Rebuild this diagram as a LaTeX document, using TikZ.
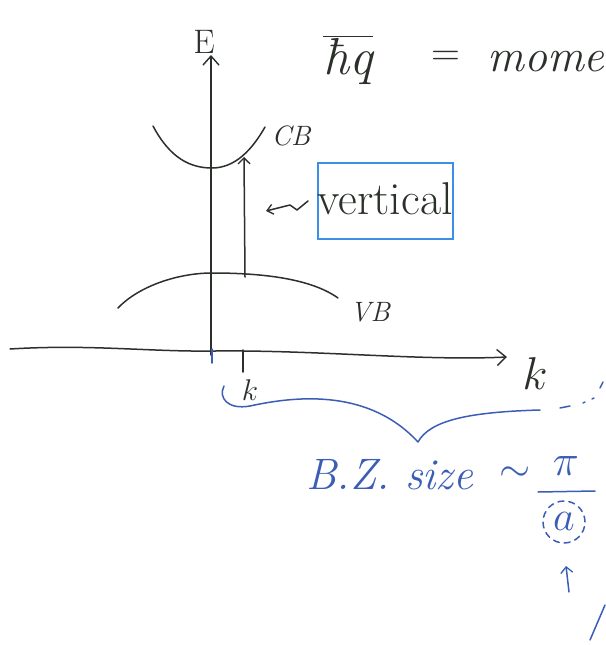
\RequirePackage{fix-cm}
\documentclass[tikz,border=0pt]{standalone}
\usetikzlibrary{arrows.meta,calc}
\definecolor{ink}{HTML}{2B302B}
\definecolor{bink}{HTML}{3B5DB5}
\definecolor{boxblue}{HTML}{3D8EE6}
\tikzset{
  pen/.style={draw=ink, line width=1.5pt, line cap=round, line join=round},
  bpen/.style={draw=bink, line width=1.5pt, line cap=round, line join=round},
  tip/.style={-{Straight Barb[length=9pt,width=16pt,line width=1.4pt]}},
  handtxt/.style={text=ink, inner sep=1pt},
  bluetxt/.style={text=bink, inner sep=1pt},
}
\begin{document}
\begin{tikzpicture}[x=1pt,y=-1pt]
\useasboundingbox (0,0) rectangle (605,645);
% axes
\coordinate (O) at (211,355);
\node[handtxt, font=\fontsize{34}{36}\selectfont] (E) at (204,42) {E};
\coordinate (Etip) at (211,55);
\draw[pen,tip] (O) -- (Etip);
\coordinate (kstart) at (10,349);
\coordinate (ktip) at (507,357);
\draw[pen,tip] (kstart) .. controls (90,344) and (150,352) .. (215,351) .. controls (320,350) and (420,361) .. (ktip);
\node[handtxt, font=\fontsize{46}{48}\selectfont] (klab) at (535,374) {$k$};
% ticks
\draw[bpen] (212,349) -- (212,363);
\draw[pen] (243,350) -- (243,372);
\node[handtxt, font=\fontsize{30}{32}\selectfont] (k0) at (250,390) {$k$};
% bands
\draw[pen] (153,126) .. controls (170,158) and (190,168) .. (212,168) .. controls (235,168) and (252,150) .. (265,127);
\node[handtxt, font=\fontsize{28}{30}\selectfont\itshape] (CB) at (291,136) {CB};
\draw[pen] (118,308) .. controls (140,285) and (180,273) .. (212,273) .. controls (260,273) and (310,278) .. (338,298);
\node[handtxt, font=\fontsize{28}{30}\selectfont\itshape] (VB) at (370,312) {VB};
% vertical transition
\coordinate (vbot) at (245,277);
\coordinate (vtop) at (244,157);
\draw[pen,-{Straight Barb[length=6pt,width=12pt,line width=1.3pt]}] (vbot) -- (vtop);
% label box
\node[draw=boxblue, line width=1.8pt, minimum width=135pt, minimum height=76pt, inner sep=0pt] (box) at (385.5,201) {};
\node[handtxt, font=\fontsize{46}{48}\selectfont] (vert) at (385,199) {vertical};
\coordinate (sq) at (266,211);
\draw[pen,-{Straight Barb[length=6pt,width=10pt,line width=1.3pt]}] (308,201) -- (297,210) -- (290,205) -- (sq);
% top formula
\node[handtxt, font=\fontsize{52}{54}\selectfont, anchor=west] (hq) at (322,60) {$\overline{\hbox{\itshape ħq}}$};
\node[handtxt, font=\fontsize{40}{42}\selectfont, anchor=west] (eq) at (430,58) {$=$};
\node[handtxt, font=\fontsize{46}{48}\selectfont\itshape, anchor=west] (mome) at (486,62) {mome};
% brace
\coordinate (bl) at (224,386);
\coordinate (btip) at (418,442);
\coordinate (br) at (540,410);
\draw[bpen] (bl) .. controls (218,398) and (228,410) .. (250,406) .. controls (300,395) and (370,390) .. (btip) .. controls (430,420) and (470,412) .. (br);
\draw[bpen] (560,408) -- (570,406);
\draw[bpen] (583,403) -- (585,402);
\draw[bpen] (592,399) -- (594,398);
\draw[bpen] (600,388) -- (603,382);
% B.Z. size
\node[bluetxt, font=\fontsize{44}{46}\selectfont\itshape] (bz) at (390,475) {B.Z. size};
\node[bluetxt, font=\fontsize{40}{42}\selectfont] (tilde) at (515,474) {$\sim$};
\node[bluetxt, font=\fontsize{44}{46}\selectfont] (pi) at (566,466) {$\pi$};
\draw[bpen] (538,492) -- (595,491);
\node[bluetxt, font=\fontsize{42}{44}\selectfont] (a) at (564,521) {$a$};
\draw[bpen, dashed, dash pattern=on 6pt off 5pt] (564,522) circle (21pt);
\coordinate (aup) at (566,566);
\draw[bpen,-{Straight Barb[length=6pt,width=12pt,line width=1.3pt]}] (569,592) -- (aup);
\draw[bpen] (590,640) -- (605,605);
\end{tikzpicture}
\end{document}
